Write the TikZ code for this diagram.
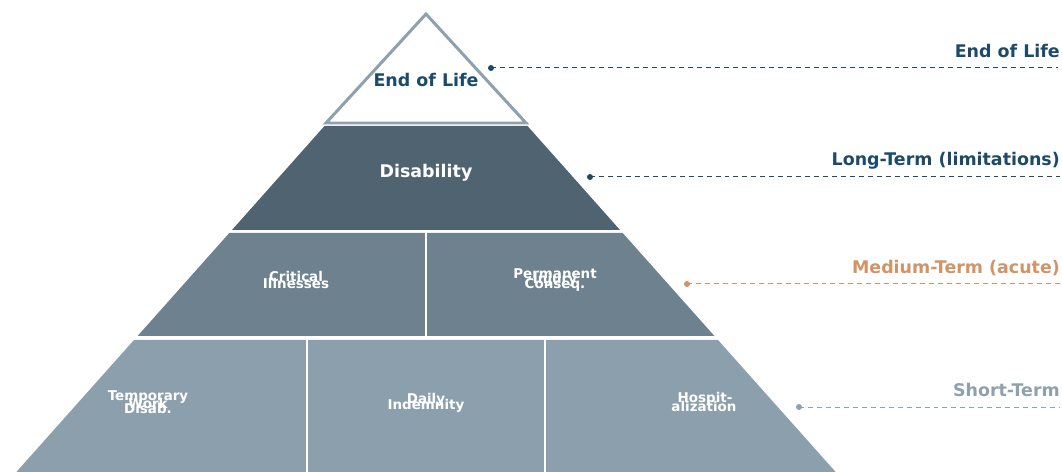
\documentclass[tikz,border=0pt]{standalone}
\usepackage{fontspec}
\setmainfont{DejaVu Sans}
\definecolor{navy}{HTML}{1B4A6B}
\definecolor{amber}{HTML}{D09467}
\definecolor{slate}{HTML}{8EA1AF}
\definecolor{tierA}{HTML}{4F6371}
\definecolor{tierB}{HTML}{6E818F}
\definecolor{tierC}{HTML}{8C9FAD}
\tikzset{
  big/.style={font=\fontsize{17.5}{20}\selectfont\bfseries, inner sep=0pt},
  small/.style={font=\fontsize{13.5}{15}\selectfont\bfseries, text=white, inner sep=0pt},
  side/.style={big, anchor=east},
  leader/.style={dashed, dash pattern=on 5pt off 4pt, line width=1pt},
  tip/.style={circle, fill, inner sep=0pt, minimum size=6pt},
  sep/.style={white, line width=2.5pt}
}
\begin{document}
\begin{tikzpicture}[x=1bp, y=-1bp]
\useasboundingbox (0,0) rectangle (1062,472);
\clip (0,0) rectangle (1062,472);
% tiers of the pyramid (side slope 0.89 px per px)
\fill[tierA] (324.5,126) -- (527.5,126) -- (620,230) -- (232,230) -- cycle;
\fill[tierB] (229.3,233) -- (622.7,233) -- (714.4,336) -- (137.6,336) -- cycle;
\fill[tierC] (134,340) -- (718,340) -- (841,478) -- (11,478) -- cycle;
% cell dividers
\draw[sep] (426,233) -- (426,336);
\draw[sep] (307,340) -- (307,478);
\draw[sep] (545,340) -- (545,478);
% apex outline
\draw[slate, line width=3pt, line join=miter, fill=white] (426,14) -- (526,123) -- (326,123) -- cycle;
% tier labels
\node[big, text=navy] (eol) at (426,80) {End of Life};
\node[big, text=white] (dis) at (426,173) {Disability};
\node[small] (crit1) at (296,276) {Critical};
\node[small] (crit2) at (296,283) {Illnesses};
\node[small] (perm1) at (555,274) {Permanent};
\node[small] (perm2) at (555,280) {Injury};
\node[small] (perm3) at (555,285) {Conseq.};
\node[small] (tmp1) at (148,397) {Temporary};
\node[small] (tmp2) at (148,403) {Work};
\node[small] (tmp3) at (148,408) {Disab.};
\node[small] (day1) at (426,400) {Daily};
\node[small] (day2) at (426,406) {Indemnity};
\node[small] (hos1) at (705,399) {Hospit-};
\node[small] (hos2) at (704,406) {alization};
% horizon labels
\node[side, text=navy] (hEol) at (1060,51) {End of Life};
\node[side, text=navy] (hLong) at (1060,161) {Long-Term (limitations)};
\node[side, text=amber] (hMed) at (1060,268) {Medium-Term (acute)};
\node[side, text=slate] (hShort) at (1060,390) {Short-Term};
% leaders
\node[tip, navy] (d1) at (491,68) {};
\node[tip, navy] (d2) at (590,177) {};
\node[tip, amber] (d3) at (687,284) {};
\node[tip, slate] (d4) at (799,407) {};
\coordinate (e1) at (1058,68);
\coordinate (e2) at (1060,177);
\coordinate (e3) at (1060,284);
\coordinate (e4) at (1060,407);
\draw[leader, navy] (d1.center) -- (e1);
\draw[leader, navy] (d2.center) -- (e2);
\draw[leader, amber] (d3.center) -- (e3);
\draw[leader, slate] (d4.center) -- (e4);
\end{tikzpicture}
\end{document}
